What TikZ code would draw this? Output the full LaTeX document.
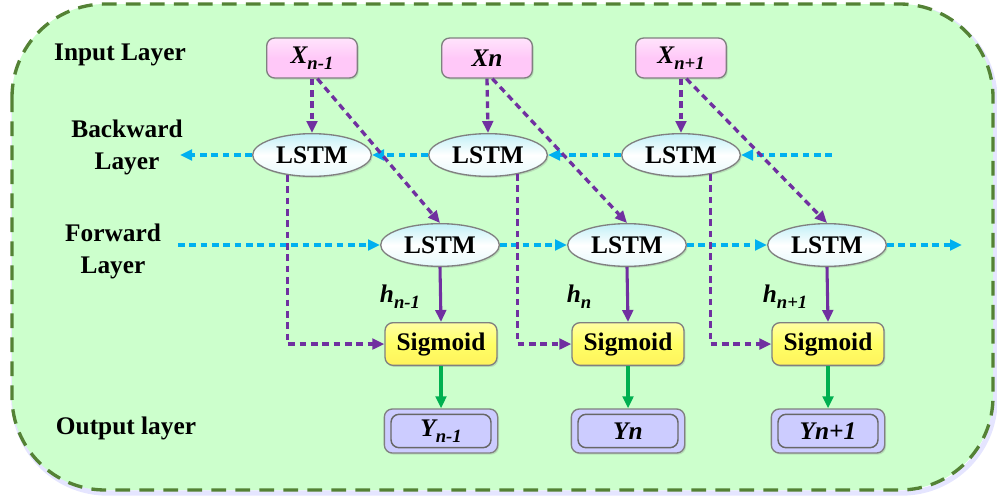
\documentclass[tikz,border=0pt]{standalone}
\usepackage{fontspec}
\setmainfont{Liberation Serif}
\usetikzlibrary{shapes.geometric,arrows.meta,shadows}
\definecolor{bgfill}{HTML}{CCFFCC}
\definecolor{bgline}{HTML}{548235}
\definecolor{purp}{HTML}{7030A0}
\definecolor{bluel}{HTML}{00B0F0}
\definecolor{greenl}{HTML}{00B050}
\definecolor{inpink}{HTML}{FFC8F8}
\definecolor{lcyan}{HTML}{C0F0F6}
\definecolor{sigy}{HTML}{FFFF66}
\definecolor{outl}{HTML}{CCCCFF}
\definecolor{bord}{HTML}{808080}
\newcommand{\mysub}[1]{\raisebox{-0.55ex}{\fontsize{14}{14}\selectfont #1}}
\tikzset{
  lbl/.style={font=\bfseries\fontsize{19}{24}\selectfont, align=center, text=black},
  hlbl/.style={font=\bfseries\itshape\fontsize{19}{20}\selectfont},
  shad/.style={drop shadow={opacity=0.25, shadow xshift=1pt, shadow yshift=-1.2pt}},
  inbox/.style={shad, draw=bord, line width=1pt, rounded corners=6pt, top color=inpink!50!white, bottom color=inpink,
     middle color=inpink, minimum width=68pt, minimum height=30pt, inner sep=0pt,
     font=\bfseries\itshape\fontsize{19}{20}\selectfont},
  lstm/.style={shad, ellipse, draw=bord, line width=1pt, top color=lcyan, bottom color=white!60!lcyan,
     middle color=white, minimum width=89pt, minimum height=32pt, inner sep=0pt,
     font=\bfseries\fontsize{19}{20}\selectfont},
  sig/.style={shad, draw=bord, line width=1pt, rounded corners=6pt, top color=sigy!60!white, bottom color=sigy!90!orange,
     middle color=sigy, minimum width=84pt, minimum height=32pt, inner sep=0pt,
     font=\bfseries\fontsize{19}{20}\selectfont},
  outbox/.style={shad, draw=bord, line width=1pt, rounded corners=6pt, fill=outl, minimum width=85pt, minimum height=33pt, inner sep=0pt,
     font=\bfseries\itshape\fontsize{19}{20}\selectfont,
     path picture={\draw[bord!80!black, line width=1.1pt] ([shift={(5pt,-4pt)}]path picture bounding box.north west) rectangle ([shift={(-5pt,4pt)}]path picture bounding box.south east);}},
  parr/.style={purp, line width=2.5pt, dash pattern=on 5pt off 3.5pt, -{Triangle[length=9pt,width=8pt]}},
  psol/.style={purp, line width=2.3pt, -{Triangle[length=9pt,width=8pt]}},
  gsol/.style={greenl, line width=2.3pt, -{Triangle[length=9pt,width=8pt]}},
  barr/.style={bluel, line width=2.5pt, dash pattern=on 5pt off 3.5pt, -{Triangle[length=9pt,width=8pt]}},
}
\begin{document}
\begin{tikzpicture}[x=0.75pt,y=-0.75pt]
\useasboundingbox (0,0) rectangle (997,497);
% background
\draw[blue!10, line width=4pt, rounded corners=70pt] (14,7) rectangle (995,493);
\draw[bgline, line width=2.5pt, dash pattern=on 11pt off 7pt, fill=bgfill, rounded corners=70pt] (12,4) rectangle (993,490);
% layer labels
\node[lbl] (inl) at (120,55) {Input Layer};
\node[lbl] (bwl) at (127,147) {Backward\\Layer};
\node[lbl] (fwl) at (113,251) {Forward\\Layer};
\node[lbl] (outlab) at (126,428) {Output layer};
% input nodes
\node[inbox] (X1) at (312,58) {X\mysub{n-1}};
\node[inbox] (X2) at (487,58) {Xn};
\node[inbox] (X3) at (681,58) {X\mysub{n+1}};
% backward LSTM
\node[lstm] (B1) at (312,155) {LSTM};
\node[lstm] (B2) at (488,155) {LSTM};
\node[lstm] (B3) at (681,155) {LSTM};
% forward LSTM
\node[lstm] (F1) at (440,245) {LSTM};
\node[lstm] (F2) at (627,245) {LSTM};
\node[lstm] (F3) at (827,245) {LSTM};
% sigmoid
\node[sig] (S1) at (441,344) {Sigmoid};
\node[sig] (S2) at (628,344) {Sigmoid};
\node[sig] (S3) at (828,344) {Sigmoid};
% outputs
\node[outbox] (Y1) at (441,431) {Y\mysub{n-1}};
\node[outbox] (Y2) at (628,431) {Yn};
\node[outbox] (Y3) at (828,431) {Yn+1};
% h labels
\node[hlbl] (h1) at (400,297) {h\mysub{n-1}};
\node[hlbl] (h2) at (579,297) {h\mysub{n}};
\node[hlbl] (h3) at (785,297) {h\mysub{n+1}};
% free ends
\coordinate (bl) at (180,155);
\coordinate (br) at (832,155);
\coordinate (fl) at (178,245);
\coordinate (fr) at (962,245);
% backward chain
\draw[barr] (B1.west) -- (bl);
\draw[barr] (B2.west) -- (B1.east);
\draw[barr] (B3.west) -- (B2.east);
\draw[barr] (br) -- (B3.east);
% forward chain
\draw[barr] (fl) -- (F1.west);
\draw[barr] (F1.east) -- (F2.west);
\draw[barr] (F2.east) -- (F3.west);
\draw[barr] (F3.east) -- (fr);
% inputs
\draw[parr] (X1.south) -- (B1.north);
\draw[parr] (X2.south) -- (B2.north);
\draw[parr] (X3.south) -- (B3.north);
\draw[parr] ([xshift=4pt]X1.south) -- (F1.north);
\draw[parr] ([xshift=4pt]X2.south) -- (F2.north);
\draw[parr] ([xshift=4pt]X3.south) -- (F3.north);
% backward to sigmoid
\draw[parr] (B1.219) |- (S1.west);
\draw[parr] (B2.327) |- (S2.west);
\draw[parr] (B3.327) |- (S3.west);
% forward to sigmoid
\draw[psol] (F1.south) -- (S1.north);
\draw[psol] (F2.south) -- (S2.north);
\draw[psol] (F3.south) -- (S3.north);
% sigmoid to output
\draw[gsol] (S1.south) -- (Y1.north);
\draw[gsol] (S2.south) -- (Y2.north);
\draw[gsol] (S3.south) -- (Y3.north);
\end{tikzpicture}
\end{document}
